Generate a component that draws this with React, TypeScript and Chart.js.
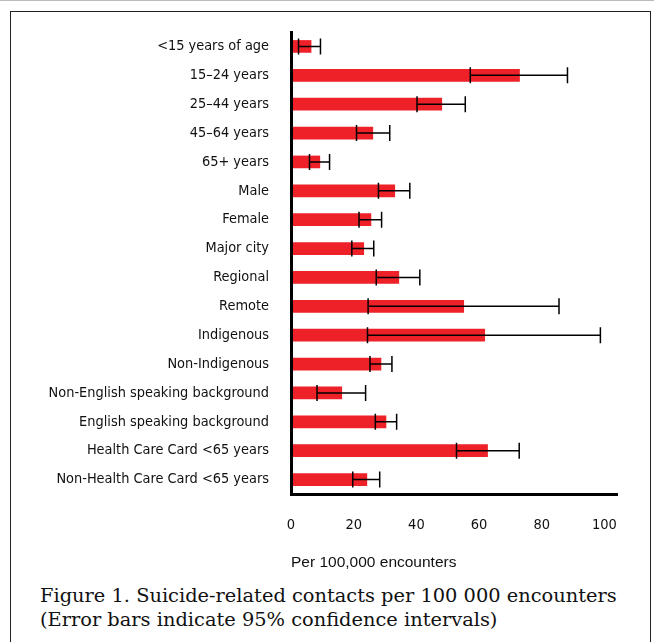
import React, { useEffect, useRef } from 'react';
import { Chart, registerables } from 'chart.js';

Chart.register(...registerables);

const categories = [
  '<15 years of age',
  '15–24 years',
  '25–44 years',
  '45–64 years',
  '65+ years',
  'Male',
  'Female',
  'Major city',
  'Regional',
  'Remote',
  'Indigenous',
  'Non-Indigenous',
  'Non-English speaking background',
  'English speaking background',
  'Health Care Card <65 years',
  'Non-Health Care Card <65 years',
];

const rates = [6.4, 72.9, 48.1, 26.1, 9.2, 33.1, 25.5, 23.2, 34.4, 55.1, 61.8, 28.7, 16.2, 30.3, 62.7, 24.2];
const lowerCI = [2.4, 57.2, 40.2, 20.9, 5.9, 27.9, 21.7, 19.4, 27.2, 24.6, 24.4, 25.2, 8.3, 26.9, 52.8, 19.7];
const upperCI = [9.4, 88.2, 55.6, 31.5, 12.3, 37.9, 28.9, 26.4, 41.1, 85.5, 98.7, 32.2, 23.8, 33.7, 72.8, 28.3];

const xTickValues = [0, 20, 40, 60, 80, 100];

const NARROW = '"Liberation Sans Narrow", "Arial Narrow", "DejaVu Sans Condensed", sans-serif';

const errorBarPlugin = {
  id: 'errorBars',
  afterDatasetsDraw(chart: any) {
    const { ctx } = chart;
    const xs = chart.scales.x;
    const ys = chart.scales.y;
    ctx.save();
    ctx.strokeStyle = '#000';
    ctx.lineWidth = 1.5;
    categories.forEach((_, i) => {
      const yy = ys.getPixelForValue(i);
      const x1 = xs.getPixelForValue(lowerCI[i]);
      const x2 = xs.getPixelForValue(upperCI[i]);
      ctx.beginPath();
      ctx.moveTo(x1, yy);
      ctx.lineTo(x2, yy);
      ctx.moveTo(x1, yy - 8);
      ctx.lineTo(x1, yy + 8);
      ctx.moveTo(x2, yy - 8);
      ctx.lineTo(x2, yy + 8);
      ctx.stroke();
    });
    ctx.restore();
  },
};

export default function App() {
  const ref = useRef<HTMLCanvasElement | null>(null);

  useEffect(() => {
    if (!ref.current) return;
    const chart = new Chart(ref.current, {
      type: 'bar',
      data: {
        labels: categories,
        datasets: [
          {
            data: rates,
            backgroundColor: '#ED2127',
            borderWidth: 0,
            barThickness: 12,
          },
        ],
      },
      options: {
        indexAxis: 'y',
        responsive: false,
        animation: false,
        layout: { padding: { left: 0, right: 37, top: 32, bottom: 10 } },
        plugins: { legend: { display: false }, tooltip: { enabled: false } },
        scales: {
          y: {
            type: 'category',
            grid: { display: false, drawTicks: false },
            border: { display: true, color: '#000', width: 3, z: 1 },
            ticks: {
              color: '#111',
              padding: 22,
              font: { family: NARROW, size: 14.4 },
            },
            afterFit: (s: any) => {
              s.width = 291;
            },
          },
          x: {
            type: 'linear',
            min: 0,
            max: 104,
            grid: { display: false, drawTicks: false },
            border: { display: true, color: '#000', width: 3, z: 1 },
            afterBuildTicks: (s: any) => {
              s.ticks = xTickValues.map((v) => ({ value: v }));
            },
            ticks: {
              color: '#111',
              padding: 23,
              font: { family: NARROW, size: 14.5 },
            },
            title: {
              display: true,
              text: 'Per 100,000 encounters',
              align: 'start',
              color: '#111',
              padding: { top: 0, bottom: -2 },
              font: { family: '"Liberation Sans", Arial, sans-serif', size: 15.5 },
            },
            afterFit: (s: any) => {
              s.height = 76;
            },
          },
        },
      },
      plugins: [errorBarPlugin],
    });
    return () => chart.destroy();
  }, []);

  return (
    <div style={{ position: 'fixed', left: 0, top: 0, width: 654, height: 642, background: '#fff', overflow: 'hidden' }}>
      <div style={{ position: 'absolute', left: 0, top: 0, width: 654, height: 1, background: '#bbb' }} />
      <div
        style={{
          position: 'absolute',
          left: 10,
          top: 11,
          width: 641,
          height: 660,
          border: '1px solid #222',
          boxSizing: 'border-box',
        }}
      />
      <canvas ref={ref} width={654} height={580} style={{ position: 'absolute', left: 0, top: 0, width: 654, height: 580 }} />
      <div
        style={{
          position: 'absolute',
          left: 40,
          top: 584,
          fontFamily: '"DejaVu Serif", serif',
          fontSize: 19.4,
          lineHeight: '24px',
          color: '#111',
          whiteSpace: 'nowrap',
        }}
      >
        <div>Figure 1. Suicide-related contacts per 100 000 encounters</div>
        <div>(Error bars indicate 95% confidence intervals)</div>
      </div>
    </div>
  );
}
